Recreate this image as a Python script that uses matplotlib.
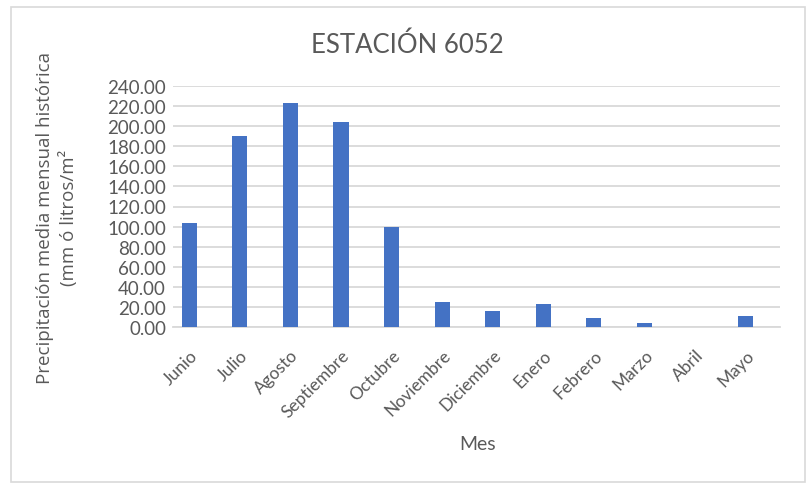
import matplotlib.pyplot as plt
from matplotlib.patches import Rectangle

# Monthly mean precipitation, station 6052
meses = ["Junio", "Julio", "Agosto", "Septiembre", "Octubre", "Noviembre",
         "Diciembre", "Enero", "Febrero", "Marzo", "Abril", "Mayo"]
precipitacion = [103.5, 190.5, 223.0, 204.0, 99.5, 25.0,
                 15.5, 23.0, 8.5, 4.0, 0.0, 10.5]
y_ticks = [0, 20, 40, 60, 80, 100, 120, 140, 160, 180, 200, 220, 240]

gris = "#595959"
azul = "#4472C4"

fig = plt.figure(figsize=(8.1, 4.85), dpi=100)
ax = fig.add_axes([173 / 810, 1 - 328 / 485, (780 - 173) / 810, (328 - 87) / 485])

x = range(len(meses))
ax.bar(x, precipitacion, width=0.3, color=azul, zorder=3)

ax.set_ylim(0, 240)
ax.set_xlim(-0.32, 11.68)
ax.set_yticks(y_ticks)
ax.set_yticklabels([f"{v:.2f}" for v in y_ticks], fontfamily="Lato",
                   fontsize=13.5, color=gris)
ax.set_xticks(list(x))
ax.set_xticklabels(meses, rotation=45, ha="right", rotation_mode="anchor",
                   fontfamily="Lato", fontsize=12.5, color=gris)
ax.tick_params(axis="y", length=0, pad=5)
ax.tick_params(axis="x", length=0, pad=14)

ax.grid(axis="y", color="#d9d9d9", linewidth=1.3, zorder=0)
for side in ["top", "right", "left"]:
    ax.spines[side].set_visible(False)
ax.spines["bottom"].set_color("#d9d9d9")
ax.spines["bottom"].set_linewidth(1.3)

fig.text(0.503, 1 - 45 / 485, "ESTACIÓN 6052", ha="center", va="center",
         fontfamily="Lato", fontsize=18.5, color=gris)
fig.text(478 / 810, 1 - 445 / 485, "Mes", ha="center", va="center",
         fontfamily="Lato", fontsize=14, color=gris)
fig.text(57 / 810, 1 - 218 / 485,
         "Precipitación media mensual histórica\n(mm ó litros/m²",
         rotation=90, ha="center", va="center", multialignment="center",
         fontfamily="Open Sans", fontsize=13.5, color=gris, linespacing=1.3)

# light frame around the chart area
fig.patches.append(Rectangle((11 / 810, 0.004), 794 / 810, 1 - 8 / 485 - 0.004,
                             transform=fig.transFigure, fill=False,
                             edgecolor="#d9d9d9", linewidth=1.2))

fig.savefig("out.png", dpi=100)
